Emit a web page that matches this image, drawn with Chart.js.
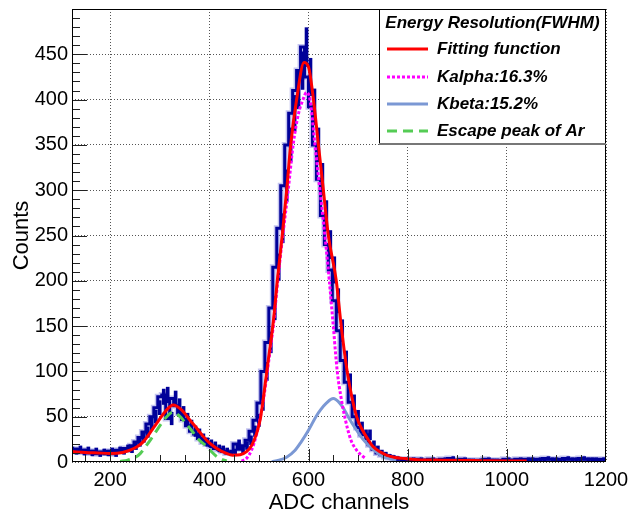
<!DOCTYPE html>
<html>
<head>
<meta charset="utf-8">
<script src="https://cdn.jsdelivr.net/npm/chart.js@4.4.0/dist/chart.umd.min.js"></script>
<style>
  html, body { margin: 0; padding: 0; background: #fff; }
  #wrap { width: 628px; height: 516px; }
</style>
</head>
<body>
<div id="wrap"><canvas id="grafico"></canvas></div>
<script>
// Histograma: bins de 8 canais a partir de 120
const binStart = 120;
const binWidth = 8;
const counts = [
  13, 12, 14, 11, 13, 10, 12, 9, 11, 10,
  12, 9, 13, 12, 15, 14, 18, 22, 27, 33,
  42, 50, 60, 72, 74, 48, 70, 62, 54, 47,
  40, 34, 31, 26, 22, 20, 18, 15, 14, 12,
  10, 11, 20, 14, 18, 24, 34, 46, 65, 100,
  132, 170, 215, 258, 305, 350, 385, 410, 432, 458,
  425, 392, 350, 312, 272, 240, 212, 178, 145, 112,
  88, 66, 50, 38, 30, 30, 19, 14, 10, 8,
  6, 5, 4, 3, 3,
  2, 3, 2, 3, 2, 2, 3, 2, 2, 3,
  2, 4, 2, 2, 3, 2, 2, 1, 2, 2,
  3, 2, 2, 1, 2, 3, 2, 2, 3, 2,
  3, 3, 2, 3, 3, 4, 3, 3, 2, 3,
  4, 3, 3, 3, 4, 3, 3, 3, 2, 3
];

// Curvas do ajuste
const fitX = [124, 150, 175, 200, 225, 240, 255, 267, 280, 294, 310, 327, 345, 361, 375, 388, 400, 415, 430, 448, 462, 475, 485, 495, 503, 510, 517, 529, 538, 547, 556, 564, 576, 591, 600, 610, 620, 630, 640, 656, 666, 678, 697, 709, 720, 730, 745, 757, 775, 790, 820, 870, 950, 1040];
const fitY = [11.5, 10.5, 10, 9.5, 10.5, 13, 17, 22.5, 32, 43, 55, 63, 57, 46, 37, 28, 21, 15, 10.5, 7.5, 8, 11.5, 18, 31, 48, 75, 105, 155, 205, 250, 300, 350, 400, 441, 436, 400, 350, 300, 250, 200, 150, 100, 50, 35, 25, 17, 11, 7.7, 5, 4, 2.5, 2, 1.5, 1];

const kalphaX = [465, 475, 485, 495, 503, 510, 517, 523, 529, 538, 546, 559, 569, 580, 589, 596, 603, 613, 623, 634, 642, 650, 658, 666, 673, 685, 697, 708, 715];
const kalphaY = [1, 4, 13, 30, 50, 72, 100, 125, 150, 200, 240, 300, 350, 385, 400, 408, 400, 350, 300, 245, 200, 150, 100, 70, 50, 25, 13, 7, 4];

const kbetaX = [526, 540, 555, 573, 585, 600, 615, 625, 636, 650, 663, 672, 680, 697, 710, 724, 737, 750, 765, 777];
const kbetaY = [0.5, 2, 5, 13, 22, 35, 50, 58, 65, 70, 65, 58, 50, 35, 25, 17, 11, 6, 3.5, 2];

const escapeX = [220, 235, 250, 260, 270, 282, 294, 304, 314, 327, 341, 352, 364, 378, 395, 405, 415, 425, 435];
const escapeY = [0.7, 2, 5, 9, 16, 25, 35, 43, 50, 55, 50, 43, 35, 25, 17, 11, 6, 3, 1];

const xTicks = [200, 400, 600, 800, 1000, 1200];
const yTicks = [0, 50, 100, 150, 200, 250, 300, 350, 400, 450];

const legendHeader = 'Energy Resolution(FWHM)';

const fonte = '"Liberation Sans", Arial, Helvetica, sans-serif';

function juntar(xs, ys) {
  return xs.map((x, i) => ({x: x, y: ys[i]}));
}

const histPoints = counts.map((c, i) => ({x: binStart + i * binWidth, y: c}));
histPoints.push({x: binStart + counts.length * binWidth, y: counts[counts.length - 1]});
const errPoints = counts.map((c, i) => ({x: binStart + (i + 0.5) * binWidth, y: [c - Math.sqrt(c), c + Math.sqrt(c)]}));

// moldura, ticks para dentro e legenda estilo ROOT
const rootFrame = {
  id: 'rootFrame',
  afterDraw(chart) {
    const ctx = chart.ctx;
    const a = chart.chartArea;
    const sx = chart.scales.x, sy = chart.scales.y;
    ctx.save();
    ctx.strokeStyle = '#222';
    ctx.lineWidth = 1;
    ctx.beginPath();
    for (let v = 10; v < sy.max; v += 10) {
      const y = Math.round(sy.getPixelForValue(v)) + 0.5;
      const len = v % 50 === 0 ? 15 : 8;
      ctx.moveTo(a.left, y);
      ctx.lineTo(a.left + len, y);
    }
    for (let v = 150; v < sx.max; v += 50) {
      const x = Math.round(sx.getPixelForValue(v)) + 0.5;
      const len = v % 200 === 0 ? 13 : 7;
      ctx.moveTo(x, a.bottom);
      ctx.lineTo(x, a.bottom - len);
    }
    ctx.stroke();
    ctx.strokeStyle = '#000';
    ctx.strokeRect(a.left + 0.5, a.top + 0.5, a.right - a.left - 1, a.bottom - a.top - 1);

    // legenda
    const bx = 379, by = a.top, bw = a.right - 379, bh = 135;
    ctx.fillStyle = '#fff';
    ctx.fillRect(bx, by, bw, bh);
    ctx.strokeStyle = '#000';
    ctx.strokeRect(bx + 0.5, by + 0.5, bw - 1, bh - 1);
    ctx.fillStyle = '#777';
    ctx.fillRect(bx, by + bh - 1, bw, 2);
    ctx.fillStyle = '#000';
    ctx.font = 'italic bold 17px ' + fonte;
    ctx.textBaseline = 'middle';
    ctx.textAlign = 'center';
    ctx.fillText(legendHeader, bx + bw / 2, by + 14);
    ctx.textAlign = 'left';
    const rows = [49, 77, 104, 131];
    chart.data.datasets.slice(0, 4).forEach((ds, i) => {
      const y = rows[i];
      ctx.strokeStyle = ds.borderColor;
      ctx.lineWidth = ds.borderWidth;
      ctx.setLineDash(ds.borderDash || []);
      ctx.beginPath();
      ctx.moveTo(387, y);
      ctx.lineTo(428, y);
      ctx.stroke();
      ctx.setLineDash([]);
      ctx.fillText(ds.label, 437, y);
    });
    ctx.restore();
  }
};

const eixoFonte = {family: fonte, size: 20};

const config = {
  type: 'line',
  data: {
    datasets: [
      {label: 'Fitting function', data: juntar(fitX, fitY), borderColor: '#ff0000', borderWidth: 3, pointRadius: 0, cubicInterpolationMode: 'monotone', order: 0},
      {label: 'Kalpha:16.3%', data: juntar(kalphaX, kalphaY), borderColor: '#ff00ff', borderWidth: 3, borderDash: [3, 2], pointRadius: 0, cubicInterpolationMode: 'monotone', order: 1},
      {label: 'Kbeta:15.2%', data: juntar(kbetaX, kbetaY), borderColor: '#7b98d4', borderWidth: 3, pointRadius: 0, cubicInterpolationMode: 'monotone', order: 2},
      {label: 'Escape peak of Ar', data: juntar(escapeX, escapeY), borderColor: '#55cc55', borderWidth: 3, borderDash: [10, 6], pointRadius: 0, cubicInterpolationMode: 'monotone', order: 3},
      {label: 'Dados', data: histPoints, stepped: 'after', borderColor: '#000099', borderWidth: 3, pointRadius: 0, order: 4},
      {type: 'bar', label: 'Erros', data: errPoints, backgroundColor: '#000099', barThickness: 3, order: 5},
      // halo claro em volta do histograma
      {label: 'Halo', data: histPoints, stepped: 'after', borderColor: 'rgba(90, 90, 210, 0.35)', borderWidth: 6, pointRadius: 0, order: 6}
    ]
  },
  options: {
    responsive: true,
    maintainAspectRatio: false,
    animation: false,
    devicePixelRatio: 1,
    layout: {padding: {top: 9, right: 22, left: 0, bottom: 0}},
    plugins: {legend: {display: false}, tooltip: {enabled: false}},
    scales: {
      x: {
        type: 'linear', min: 123, max: 1200, offset: false,
        afterBuildTicks: (s) => { s.ticks = xTicks.map(v => ({value: v})); },
        afterFit: (s) => { s.height = 54; s.paddingLeft = 0; s.paddingRight = 0; },
        grid: {color: '#555', lineWidth: 1, drawTicks: false, offset: false},
        border: {display: false, dash: [1, 2]},
        ticks: {padding: 6, color: '#000', font: eixoFonte, callback: (v) => String(v)},
        title: {display: true, text: 'ADC channels', color: '#000', font: {family: fonte, size: 22}, padding: {top: 0, bottom: 0}}
      },
      y: {
        type: 'linear', min: 0, max: 500,
        afterBuildTicks: (s) => { s.ticks = yTicks.map(v => ({value: v})); },
        afterFit: (s) => { s.width = 72; s.paddingTop = 0; s.paddingBottom = 0; },
        grid: {color: '#555', lineWidth: 1, drawTicks: false},
        border: {display: false, dash: [1, 2]},
        ticks: {padding: 4, color: '#000', font: eixoFonte, callback: (v) => String(v)},
        title: {display: true, text: 'Counts', color: '#000', font: {family: fonte, size: 22}, padding: {top: 9, bottom: 0}}
      }
    }
  },
  plugins: [rootFrame]
};

const grafico = new Chart(document.getElementById('grafico'), config);
</script>
</body>
</html>
